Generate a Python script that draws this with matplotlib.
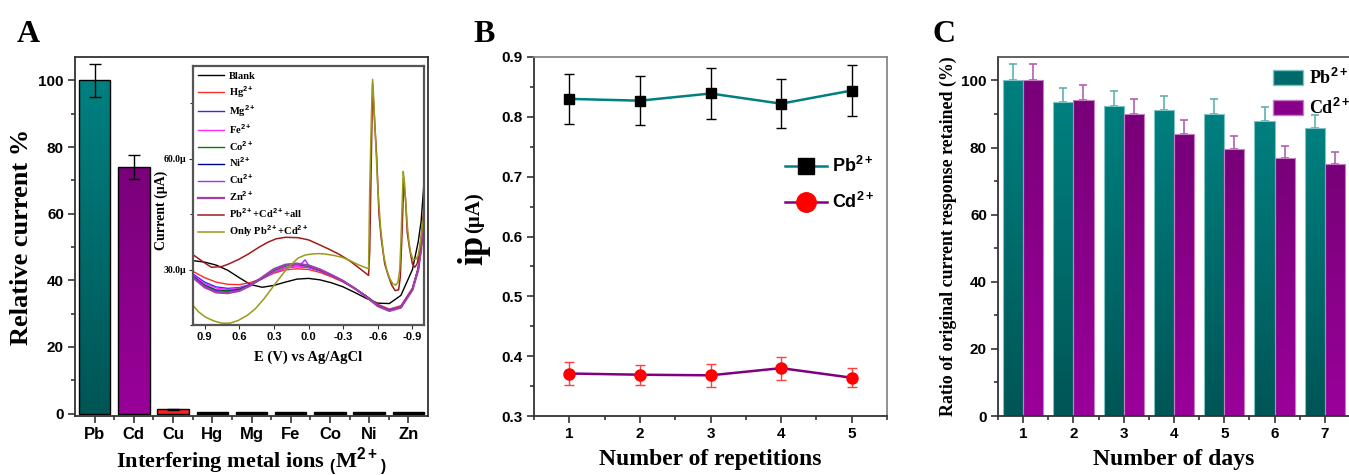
import numpy as np
import matplotlib
matplotlib.use("Agg")
import matplotlib.pyplot as plt
from matplotlib.colors import LinearSegmentedColormap
from matplotlib.ticker import MultipleLocator, FixedLocator
from matplotlib.patches import Patch

plt.rcParams['mathtext.fontset'] = 'custom'
plt.rcParams['mathtext.rm'] = 'Liberation Sans:bold'
plt.rcParams['mathtext.bf'] = 'Liberation Sans:bold'
plt.rcParams['mathtext.it'] = 'Liberation Sans:bold'
plt.rcParams['font.family'] = 'Liberation Sans'
plt.rcParams['font.weight'] = 'bold'

SERIF = 'Liberation Serif'
SANS = 'Liberation Sans'

# ---------------- Data ----------------
# Panel A: interference
ions = ['Pb', 'Cd', 'Cu', 'Hg', 'Mg', 'Fe', 'Co', 'Ni', 'Zn']
rel_current = [100, 74, 1.3, 0.4, 0.4, 0.4, 0.4, 0.4, 0.4]
rel_err = [5.0, 3.7, 0.15, 0, 0, 0, 0, 0, 0]

# Inset: DPASV curves (E in V, current in uA)
E_grid = [1.0, 0.9, 0.8, 0.7, 0.6, 0.5, 0.4, 0.3, 0.2, 0.1, 0.0, -0.1, -0.2,
          -0.3, -0.4, -0.5, -0.6, -0.7, -0.8, -0.9, -0.95, -0.975, -1.0]
I_blank = [32.4, 32.0, 31.2, 29.8, 27.8, 25.9, 25.2, 25.7, 26.6, 27.4, 27.6, 27.2, 26.4,
           25.3, 23.8, 22.2, 20.9, 20.8, 23.0, 30.0, 37.5, 43.0, 53.5]
I_hg = [29.5, 27.8, 26.6, 26.0, 25.9, 26.5, 27.6, 29.0, 29.9, 30.2, 30.0, 29.2, 28.0,
        26.6, 24.8, 22.8, 20.6, 19.3, 20.2, 25.0, 30.5, 36.0, 45.0]
I_mg = [28.8, 26.6, 25.3, 24.9, 25.1, 26.0, 27.5, 29.3, 30.4, 30.8, 30.5, 29.6, 28.3,
        26.8, 24.9, 22.8, 20.4, 19.1, 20.0, 24.8, 30.3, 36.0, 45.5]
I_fe = [28.5, 26.2, 25.0, 24.6, 24.9, 25.9, 27.5, 29.3, 30.4, 30.9, 30.6, 29.7, 28.3,
        26.8, 24.9, 22.8, 20.4, 19.1, 20.0, 24.8, 30.3, 36.0, 45.5]
I_co = [28.0, 25.8, 24.5, 24.3, 24.7, 25.8, 27.6, 29.7, 30.9, 31.3, 30.9, 29.8, 28.4,
        26.8, 24.9, 22.8, 20.3, 19.0, 19.9, 24.7, 30.2, 35.8, 45.5]
I_ni = [28.2, 25.6, 24.2, 24.0, 24.5, 25.9, 27.9, 30.0, 31.2, 31.5, 31.0, 29.9, 28.5,
        26.9, 24.9, 22.7, 20.2, 18.9, 19.8, 24.6, 30.0, 35.6, 45.3]
I_zn = [27.8, 25.2, 23.8, 23.6, 24.2, 25.7, 27.9, 30.1, 31.3, 31.6, 31.1, 30.0, 28.5,
        26.9, 24.9, 22.6, 20.1, 18.8, 19.7, 24.5, 29.9, 35.4, 45.0]
E_cu = [1.0, 0.9, 0.8, 0.7, 0.6, 0.5, 0.4, 0.3, 0.2, 0.1, 0.06, 0.03, 0.0, -0.1, -0.2,
        -0.3, -0.4, -0.5, -0.6, -0.7, -0.8, -0.9, -0.95, -0.975, -1.0]
I_cu = [28.0, 25.5, 24.1, 23.9, 24.4, 25.8, 27.8, 29.9, 31.1, 31.5, 31.6, 32.6, 31.2, 30.0, 28.5,
        26.9, 24.9, 22.7, 20.2, 18.9, 19.8, 24.6, 30.0, 35.6, 45.3]
E_all = [1.0, 0.9, 0.84, 0.75, 0.69, 0.6, 0.52, 0.43, 0.35, 0.28, 0.2, 0.09, 0.0, -0.08, -0.17,
         -0.26, -0.35, -0.43, -0.52, -0.53, -0.545, -0.555, -0.565, -0.59, -0.61, -0.63, -0.66,
         -0.69, -0.72, -0.75, -0.78, -0.795, -0.81, -0.825, -0.84, -0.855, -0.875, -0.9, -0.92,
         -0.94, -0.96, -0.98, -1.0]
I_all = [34.0, 31.8, 30.6, 30.8, 31.5, 32.8, 34.2, 36.0, 37.4, 38.3, 38.7, 38.6, 38.0, 36.9, 35.6,
         34.2, 32.5, 30.6, 28.4, 35.0, 62.0, 80.2, 74.0, 60.8, 45.0, 38.3, 31.5,
         28.4, 25.8, 24.3, 24.5, 28.0, 40.0, 54.0, 49.0, 40.0, 35.6, 31.5, 30.6,
         31.5, 34.7, 40.0, 46.4]
E_only = [1.0, 0.95, 0.89, 0.82, 0.75, 0.68, 0.61, 0.53, 0.46, 0.39, 0.32, 0.26, 0.2, 0.14, 0.09,
          0.03, -0.03, -0.09, -0.14, -0.22, -0.29, -0.36, -0.43, -0.52, -0.53, -0.545, -0.555,
          -0.565, -0.58, -0.6, -0.625, -0.65, -0.675, -0.7, -0.73, -0.755, -0.775, -0.79, -0.8,
          -0.81, -0.82, -0.83, -0.84, -0.855, -0.87, -0.885, -0.905, -0.93, -0.95, -0.97, -1.0]
I_only = [20.3, 18.5, 17.1, 16.1, 15.5, 15.5, 16.2, 17.6, 19.4, 21.9, 24.8, 27.3, 29.7, 31.6, 33.1,
          33.9, 34.2, 34.3, 34.2, 33.8, 33.3, 32.4, 31.3, 30.2, 51.8, 72.0, 81.4,
          76.0, 65.3, 52.0, 41.0, 34.0, 30.2, 27.8, 26.1, 25.8, 26.6, 30.0, 37.4,
          47.0, 56.5, 54.0, 49.1, 42.0, 37.4, 34.5, 32.7, 32.8, 33.8, 37.5, 45.5]

# Panel B: repeatability
reps = [1, 2, 3, 4, 5]
pb_ip = [0.830, 0.827, 0.839, 0.822, 0.844]
pb_ip_err = [0.042, 0.041, 0.042, 0.041, 0.042]
cd_ip = [0.371, 0.369, 0.368, 0.380, 0.364]
cd_ip_err = [0.019, 0.017, 0.019, 0.019, 0.016]

# Panel C: stability
days = [1, 2, 3, 4, 5, 6, 7]
pb_ret = [100, 93.5, 92.3, 91.3, 90.0, 88.0, 85.8]
pb_ret_err = [5.0, 4.3, 4.5, 4.2, 4.4, 4.0, 3.9]
cd_ret = [100, 94.2, 90.0, 84.1, 79.6, 76.9, 75.0]
cd_ret_err = [5.0, 4.4, 4.4, 4.2, 4.0, 3.5, 3.6]

# ---------------- Helpers ----------------
def gradient_fill(ax, patches, top, bottom, z=1.5):
    cmap = LinearSegmentedColormap.from_list('g', [bottom, top])
    grad = np.linspace(0, 1, 256).reshape(-1, 1)
    for p in patches:
        x0, y0 = p.get_x(), p.get_y()
        w, h = p.get_width(), p.get_height()
        im = ax.imshow(grad, extent=[x0, x0 + w, y0, y0 + h], origin='lower',
                       aspect='auto', cmap=cmap, zorder=z, interpolation='bilinear')
        im.set_clip_path(p)


def style_axes(ax, spine_col='#333333'):
    for s in ax.spines.values():
        s.set_color(spine_col)
        s.set_linewidth(1.3)
    ax.tick_params(which='both', direction='out', colors='#222222', width=1.1)
    ax.tick_params(which='major', length=5, labelsize=11, pad=3)
    ax.tick_params(which='minor', length=3)
    ax.tick_params(top=False, right=False, which='both')
    for lab in ax.get_xticklabels() + ax.get_yticklabels():
        lab.set_fontfamily(SANS)
        lab.set_fontweight('bold')
        lab.set_color('black')


fig = plt.figure(figsize=(13.49, 4.75), dpi=100)
W, H = 1349, 475


def rect(x0, x1, y0, y1):
    return [x0 / W, (H - y1) / H, (x1 - x0) / W, (y1 - y0) / H]

# ---------------- Panel A ----------------
axA = fig.add_axes(rect(75, 428, 57, 416))
xA = np.arange(len(ions))
barsA = axA.bar(xA, rel_current, width=0.8, color='none', edgecolor='black',
                linewidth=1.0, zorder=2)
gradient_fill(axA, [barsA[0]], '#008080', '#005555')
gradient_fill(axA, [barsA[1]], '#7a007a', '#990099')
barsA[2].set_facecolor('#ff2020')
for b in barsA[3:]:
    b.set_facecolor('black')
axA.errorbar(xA[:3], rel_current[:3], yerr=rel_err[:3], fmt='none', ecolor='black',
             elinewidth=1.0, capsize=4, capthick=1.0, zorder=3)
axA.set_xlim(-0.5, 8.5)
axA.set_ylim(-0.7, 107)
axA.set_xticks(xA)
axA.set_xticklabels(ions)
axA.xaxis.set_minor_locator(FixedLocator(xA[:-1] + 0.5))
axA.yaxis.set_major_locator(MultipleLocator(20))
axA.yaxis.set_minor_locator(MultipleLocator(10))
style_axes(axA)
axA.tick_params(axis='x', which='major', labelsize=12)
axA.set_ylabel('Relative current %', fontfamily=SERIF, fontweight='bold', fontsize=19,
               labelpad=4)
axA.set_xlabel('Interfering metal ions $_($M$^{2+}$$_)$', fontfamily=SERIF,
               fontweight='bold', fontsize=16, labelpad=2)
fig.text(17 / W, 1 - 42 / H, 'A', fontfamily=SERIF, fontweight='bold', fontsize=23)

# Inset
axI = fig.add_axes(rect(193, 424, 66, 325))
curves = [
    (E_grid, I_blank, 'black', 'Blank', 1.0),
    (E_grid, I_hg, '#ff2a2a', 'Hg$^{2+}$', 1.0),
    (E_grid, I_mg, '#2a2aff', 'Mg$^{2+}$', 1.0),
    (E_grid, I_fe, '#ff2aff', 'Fe$^{2+}$', 1.0),
    (E_grid, I_co, '#008000', 'Co$^{2+}$', 1.0),
    (E_grid, I_ni, '#000090', 'Ni$^{2+}$', 1.0),
    (E_cu, I_cu, '#9a30ff', 'Cu$^{2+}$', 1.0),
    (E_grid, I_zn, '#a040a8', 'Zn$^{2+}$', 1.6),
    (E_all, I_all, '#a01c1c', 'Pb$^{2+}$+Cd$^{2+}$+all', 1.1),
    (E_only, I_only, '#9a9a1a', 'Only Pb$^{2+}$+Cd$^{2+}$', 1.1),
]
for ex, iy, c, lab, lw in curves:
    axI.plot(ex, iy, color=c, lw=lw, label=lab)
axI.set_xlim(1.0, -1.0)
axI.set_ylim(15, 85)
axI.set_xticks([0.9, 0.6, 0.3, 0.0, -0.3, -0.6, -0.9])
axI.set_xticklabels(['0.9', '0.6', '0.3', '0.0', '-0.3', '-0.6', '-0.9'])
axI.set_yticks([30, 60])
axI.set_yticklabels(['30.0μ', '60.0μ'])
axI.yaxis.set_minor_locator(FixedLocator([15, 45, 75]))
for s in axI.spines.values():
    s.set_color('#555555')
    s.set_linewidth(1.6)
axI.tick_params(which='both', direction='out', width=0.8, colors='#333333')
axI.tick_params(which='major', length=3, pad=2)
axI.tick_params(which='minor', length=2)
for lab in axI.get_xticklabels():
    lab.set_fontfamily(SANS); lab.set_fontweight('bold'); lab.set_fontsize(8); lab.set_color('black')
for lab in axI.get_yticklabels():
    lab.set_fontfamily(SERIF); lab.set_fontweight('bold'); lab.set_fontsize(7); lab.set_color('black')
axI.set_xlabel('E (V) vs Ag/AgCl', fontfamily=SERIF, fontweight='bold', fontsize=10.5, labelpad=6)
axI.set_ylabel('Current (μA)', fontfamily=SERIF, fontweight='bold', fontsize=10)
axI.yaxis.set_label_coords(-0.108, 0.444)
legI = axI.legend(loc='upper left', frameon=False, prop={'family': SERIF, 'weight': 'bold', 'size': 7.6},
                  handlelength=2.4, labelspacing=0.3, borderaxespad=0.2, borderpad=0.3,
                  handletextpad=0.5)

# ---------------- Panel B ----------------
axB = fig.add_axes(rect(534, 887, 57, 416))
axB.errorbar(reps, pb_ip, yerr=pb_ip_err, fmt='none', ecolor='black', elinewidth=1.0,
             capsize=3.5, capthick=1.0, zorder=2)
axB.plot(reps, pb_ip, color='#008080', lw=1.8, zorder=3)
axB.plot(reps, pb_ip, ls='none', marker='s', ms=7, color='black', zorder=4)
axB.errorbar(reps, cd_ip, yerr=cd_ip_err, fmt='none', ecolor='#ff4040', elinewidth=1.0,
             capsize=3.5, capthick=1.0, zorder=2)
axB.plot(reps, cd_ip, color='#800080', lw=1.8, zorder=3)
axB.plot(reps, cd_ip, ls='none', marker='o', ms=8, color='#ff0000', zorder=4)
axB.set_xlim(0.5, 5.5)
axB.set_ylim(0.3, 0.9)
axB.xaxis.set_major_locator(MultipleLocator(1))
axB.xaxis.set_minor_locator(MultipleLocator(0.5))
axB.yaxis.set_major_locator(MultipleLocator(0.1))
axB.yaxis.set_minor_locator(MultipleLocator(0.05))
axB.yaxis.set_major_formatter(matplotlib.ticker.FormatStrFormatter('%.1f'))
style_axes(axB, '#333333')
axB.spines['top'].set_color('#888888')
axB.spines['right'].set_color('#888888')
axB.set_xlabel('Number of repetitions', fontfamily=SERIF, fontweight='bold', fontsize=17, labelpad=6)
h1, = axB.plot([], [], color='#008080', lw=1.8, marker='s', ms=12, mfc='black', mec='black')
h2, = axB.plot([], [], color='#800080', lw=1.8, marker='o', ms=14, mfc='#ff0000', mec='#ff0000')
axB.legend([h1, h2], ['Pb$^{2+}$', 'Cd$^{2+}$'], loc='upper right', bbox_to_anchor=(1.01, 0.77),
           frameon=False, prop={'family': SANS, 'weight': 'bold', 'size': 13},
           handlelength=2.3, labelspacing=0.9, handletextpad=0.3)
fig.text(474 / W, 1 - 250 / H, 'ip', rotation=90, fontfamily=SERIF, fontweight='bold',
         fontsize=26, ha='center', va='center')
fig.text(474 / W, 1 - 213 / H, '(μA)', rotation=90, fontfamily=SERIF, fontweight='bold',
         fontsize=15, ha='center', va='center')
fig.text(473 / W, 1 - 42 / H, 'B', fontfamily=SERIF, fontweight='bold', fontsize=23)

# ---------------- Panel C ----------------
axC = fig.add_axes(rect(998, 1350, 57, 416))
xd = np.array(days, dtype=float)
bw = 0.4
barsPb = axC.bar(xd - bw / 2, pb_ret, width=bw, color='none', edgecolor='#7fc4c4', linewidth=0.8, zorder=2)
barsCd = axC.bar(xd + bw / 2, cd_ret, width=bw, color='none', edgecolor='#c47fc4', linewidth=0.8, zorder=2)
gradient_fill(axC, barsPb, '#008080', '#005555')
gradient_fill(axC, barsCd, '#780078', '#9a009a')
axC.errorbar(xd - bw / 2, pb_ret, yerr=[np.zeros(len(days)), pb_ret_err], fmt='none',
             ecolor='#5fb0b0', elinewidth=1.2, capsize=3, capthick=1.2, zorder=1)
axC.errorbar(xd + bw / 2, cd_ret, yerr=[np.zeros(len(days)), cd_ret_err], fmt='none',
             ecolor='#b060b0', elinewidth=1.2, capsize=3, capthick=1.2, zorder=1)
axC.set_xlim(0.5, 7.5)
axC.set_ylim(0, 107)
axC.xaxis.set_major_locator(MultipleLocator(1))
axC.xaxis.set_minor_locator(MultipleLocator(0.5))
axC.yaxis.set_major_locator(MultipleLocator(20))
axC.yaxis.set_minor_locator(MultipleLocator(10))
style_axes(axC)
axC.spines['top'].set_color('#555555')
axC.set_xlabel('Number of days', fontfamily=SERIF, fontweight='bold', fontsize=17, labelpad=6)
axC.set_ylabel('Ratio of original current response retained (%)', fontfamily=SERIF,
               fontweight='bold', fontsize=12.9, labelpad=3)
pp = Patch(facecolor='#006a6a', edgecolor='#7fc4c4')
pc = Patch(facecolor='#880088', edgecolor='#c47fc4')
axC.legend([pp, pc], ['Pb$^{2+}$', 'Cd$^{2+}$'], loc='upper left', bbox_to_anchor=(0.78, 0.97),
           frameon=False, prop={'family': SERIF, 'weight': 'bold', 'size': 13},
           handlelength=1.7, handleheight=0.9, labelspacing=0.55, handletextpad=0.3,
           borderaxespad=0, borderpad=0)
fig.text(933 / W, 1 - 42 / H, 'C', fontfamily=SERIF, fontweight='bold', fontsize=23)

fig.savefig('out.png', dpi=100)
